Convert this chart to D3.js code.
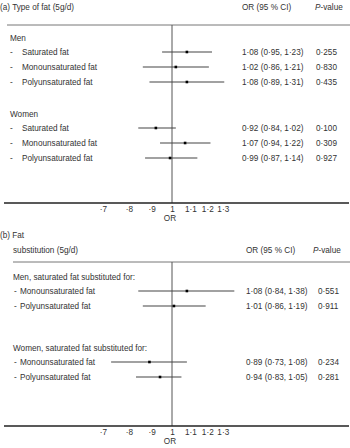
<!DOCTYPE html>
<html>
<head>
<meta charset="utf-8">
<script src="https://cdn.jsdelivr.net/npm/d3@7"></script>
<style>
  body { margin: 0; background: #fff; }
  svg text { font-family: "Liberation Sans", Arial, sans-serif; font-size: 8.2px; fill: #333; }
</style>
</head>
<body>
<svg id="chart" width="350" height="448"></svg>
<script>
// panel (a) type of fat
var fatTypes = ["Saturated fat", "Monounsaturated fat", "Polyunsaturated fat"];
var menOR = [1.08, 1.02, 1.08];
var menLow = [0.95, 0.86, 0.89];
var menHigh = [1.23, 1.21, 1.31];
var menP = ["0·255", "0·830", "0·435"];
var womenOR = [0.92, 1.07, 0.99];
var womenLow = [0.84, 0.94, 0.87];
var womenHigh = [1.02, 1.22, 1.14];
var womenP = ["0·100", "0·309", "0·927"];

// panel (b) fat substitution
var subTypes = ["Monounsaturated fat", "Polyunsaturated fat"];
var menSubOR = [1.08, 1.01];
var menSubLow = [0.84, 0.86];
var menSubHigh = [1.38, 1.19];
var menSubP = ["0·551", "0·911"];
var womenSubOR = [0.89, 0.94];
var womenSubLow = [0.73, 0.83];
var womenSubHigh = [1.08, 1.05];
var womenSubP = ["0·234", "0·281"];

var tickValues = [0.7, 0.8, 0.9, 1, 1.1, 1.2, 1.3];

var svg = d3.select("#chart");

// log scale, 1 sits at x=172
var k = 193.5;
var x = d3.scaleLog()
  .domain([0.7, 1.3])
  .range([172 + k * Math.log(0.7), 172 + k * Math.log(1.3)]);

function dot(v) { return String(v).replace(".", "·"); }
function fmt2(v) { return d3.format(".2f")(v).replace(".", "·"); }
function tickFmt(v) { return v < 1 ? dot(v).replace(/^0/, "") : dot(v); }

function rows(labels, or, low, high, p) {
  return labels.map(function (l, i) {
    return { label: l, or: or[i], low: low[i], high: high[i], p: p[i] };
  });
}

function drawRows(g, data, y0, opt) {
  var row = g.selectAll(null)
    .data(data)
    .enter()
    .append("g")
    .attr("transform", function (d, i) { return "translate(0," + (y0 + i * 15) + ")"; });

  row.append("text").attr("x", opt.dashX).attr("y", 3).text("-");
  row.append("text").attr("x", opt.labelX).attr("y", 3).text(function (d) { return d.label; });

  row.append("line")
    .attr("x1", function (d) { return x(d.low); })
    .attr("x2", function (d) { return x(d.high); })
    .attr("stroke", "#444")
    .attr("stroke-width", 1.2);

  row.append("rect")
    .attr("x", function (d) { return x(d.or) - 1.3; })
    .attr("y", -1.3)
    .attr("width", 2.6)
    .attr("height", 2.6)
    .attr("fill", "#000");

  row.append("text").attr("x", opt.orX).attr("y", 3)
    .text(function (d) { return fmt2(d.or) + " (" + fmt2(d.low) + ", " + fmt2(d.high) + ")"; });
  row.append("text").attr("x", opt.pX).attr("y", 3).text(function (d) { return d.p; });
}

function drawPanel(cfg) {
  var g = svg.append("g");

  cfg.titles.forEach(function (t) {
    g.append("text").attr("x", t[0]).attr("y", t[1]).text(t[2]);
  });

  g.append("text").attr("x", cfg.orX).attr("y", cfg.headY).text("OR (95 % CI)");
  var pv = g.append("text").attr("x", cfg.pHeadX).attr("y", cfg.headY);
  pv.append("tspan").attr("font-style", "italic").text("P");
  pv.append("tspan").text("-value");

  // separator under the header
  g.append("line")
    .attr("x1", cfg.sepX).attr("x2", 350)
    .attr("y1", cfg.sepY).attr("y2", cfg.sepY)
    .attr("stroke", "#777").attr("stroke-width", 1);

  // reference line at OR = 1
  g.append("line")
    .attr("x1", x(1)).attr("x2", x(1))
    .attr("y1", cfg.sepY).attr("y2", cfg.axisY)
    .attr("stroke", "#555").attr("stroke-width", 1);

  cfg.groups.forEach(function (gr) {
    g.append("text").attr("x", cfg.groupX).attr("y", gr.y + 3).text(gr.label);
    drawRows(g, gr.data, gr.y + 14, cfg);
  });

  // axis baseline across the full width
  g.append("line")
    .attr("x1", 4).attr("x2", 349)
    .attr("y1", cfg.axisY).attr("y2", cfg.axisY)
    .attr("stroke", "#222").attr("stroke-width", 1.4);

  var axis = g.append("g")
    .attr("transform", "translate(0," + cfg.axisY + ")")
    .call(d3.axisBottom(x).tickValues(tickValues).tickFormat(tickFmt).tickSize(0).tickPadding(3));
  axis.select(".domain").remove();
  axis.selectAll("text")
    .attr("font-family", "Liberation Sans, Arial, sans-serif")
    .attr("font-size", 8.2)
    .attr("fill", "#333");

  g.append("text").attr("x", x(1) - 2).attr("y", cfg.axisY + 18)
    .attr("text-anchor", "middle").text("OR");
}

drawPanel({
  titles: [[0, 10, "(a) Type of fat (5g/d)"]],
  headY: 10, orX: 242, pHeadX: 315,
  sepX: 7, sepY: 25, axisY: 203,
  groupX: 10, dashX: 10, labelX: 22, pX: 316,
  groups: [
    { label: "Men", y: 38, data: rows(fatTypes, menOR, menLow, menHigh, menP) },
    { label: "Women", y: 114, data: rows(fatTypes, womenOR, womenLow, womenHigh, womenP) }
  ]
});

drawPanel({
  titles: [[0, 238, "(b) Fat"], [13, 253, "substitution (5g/d)"]],
  headY: 253, orX: 246, pHeadX: 313,
  sepX: 13, sepY: 262, axisY: 426,
  groupX: 13, dashX: 14, labelX: 20, pX: 318,
  groups: [
    { label: "Men, saturated fat substituted for:", y: 277, data: rows(subTypes, menSubOR, menSubLow, menSubHigh, menSubP) },
    { label: "Women, saturated fat substituted for:", y: 348, data: rows(subTypes, womenSubOR, womenSubLow, womenSubHigh, womenSubP) }
  ]
});
</script>
</body>
</html>
